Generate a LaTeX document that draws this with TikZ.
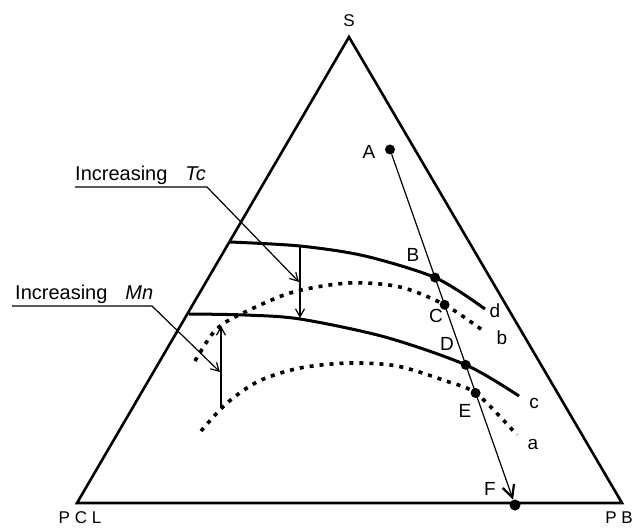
\documentclass[tikz,border=0pt]{standalone}
\usepackage{fontspec}
\setmainfont{Liberation Sans}
\usetikzlibrary{arrows.meta, intersections}

\tikzset{
    edge/.style={line width=2.6pt, line join=miter},
    phase/.style={line width=3pt},
    cloud/.style={line width=3.6pt, dash pattern=on 4pt off 6pt},
    thinline/.style={line width=1.2pt},
    tip/.style={-{Straight Barb[length=8pt,width=9pt]}},
    bigtip/.style={-{Straight Barb[length=12pt,width=12pt,line width=2.2pt]}},
    dot/.style={circle, fill, inner sep=0pt, minimum size=10pt},
    ptlabel/.style={font=\fontsize{19}{19}\selectfont},
    cornerlabel/.style={font=\fontsize{17}{17}\selectfont},
    note/.style={font=\fontsize{20}{22}\selectfont, inner sep=0pt}
}

\begin{document}
\begin{tikzpicture}[x=1pt, y=-1pt]

        \useasboundingbox (0,0) rectangle (636,529);

        % Triangle
        \draw[edge] (77,503) -- (349,37) -- (622,503) -- cycle;
        \node[cornerlabel] (S) at (349,21) {S};
        \node[cornerlabel] (pcl) at (80,518) {P C L};
        \node[cornerlabel] (pb) at (619,518) {P B};

        % Solid curves d and c
        \draw[phase, name path=curved] plot[smooth] coordinates
            {(230,242) (300,246) (365,256) (436,278) (485,309)};
        \draw[phase, name path=curvec] plot[smooth] coordinates
            {(189,314) (245,315) (300,319) (385,337) (466,365) (519,396)};

        % Dotted curves b and a
        \draw[cloud, name path=curveb] plot[smooth] coordinates
            {(195,361) (213,333) (233,318) (290,293) (349,283) (400,287) (445,305) (485,332)};
        \draw[cloud, name path=curvea] plot[smooth] coordinates
            {(201,431) (227,403) (259,381) (300,368) (349,363) (397,366) (446,381) (477,394) (517,435)};

        % Path from A to F
        \node[dot] (A) at (390,149.5) {};
        \node[dot, minimum size=11pt] (F) at (515,505) {};
        \draw[thinline, bigtip, name path=af] (A) -- (F);

        \path[name intersections={of=af and curved, by=B}];
        \path[name intersections={of=af and curveb, by=C}];
        \path[name intersections={of=af and curvec, by=D}];
        \path[name intersections={of=af and curvea, by=E}];
        \node[dot] (Bdot) at (B) {};
        \node[dot] (Cdot) at (C) {};
        \node[dot] (Ddot) at (D) {};
        \node[dot] (Edot) at (E) {};

        % Point labels
        \node[ptlabel] (Alab) at (369,152) {A};
        \node[ptlabel] (Blab) at (413,255) {B};
        \node[ptlabel] (Clab) at (436,316) {C};
        \node[ptlabel] (Dlab) at (447,344) {D};
        \node[ptlabel] (Elab) at (465,411) {E};
        \node[ptlabel] (Flab) at (490,489) {F};

        % Curve labels
        \node[ptlabel] (dlab) at (495,311) {d};
        \node[ptlabel] (blab) at (502,338) {b};
        \node[ptlabel] (clab) at (534,403) {c};
        \node[ptlabel] (alab) at (533,444) {a};

        % Shift with Tc
        \coordinate (tctop) at (300,246);
        \coordinate (tcbot) at (300,318);
        \draw[thinline, tip] (tctop) -- (tcbot);

        % Shift with Mn
        \coordinate (mnbot) at (221,408);
        \coordinate (mntop) at (221,326);
        \draw[thinline, tip] (mnbot) -- (mntop);

        % Annotation for Tc
        \node[note, anchor=base west] (tclab) at (75,181) {Increasing\hspace{0.9em}\textit{Tc}};
        \coordinate (tcknee) at (207,187);
        \coordinate (tcend) at (299,282);
        \draw[thinline, tip] (tclab.base west |- tcknee) -- (tcknee) -- (tcend);

        % Annotation for Mn
        \node[note, anchor=base west] (mnlab) at (15,299) {Increasing\hspace{0.9em}\textit{Mn}};
        \coordinate (mnknee) at (152,306);
        \coordinate (mnend) at (220,372);
        \draw[thinline, tip] (12,306) -- (mnknee) -- (mnend);

    \end{tikzpicture}
\end{document}
